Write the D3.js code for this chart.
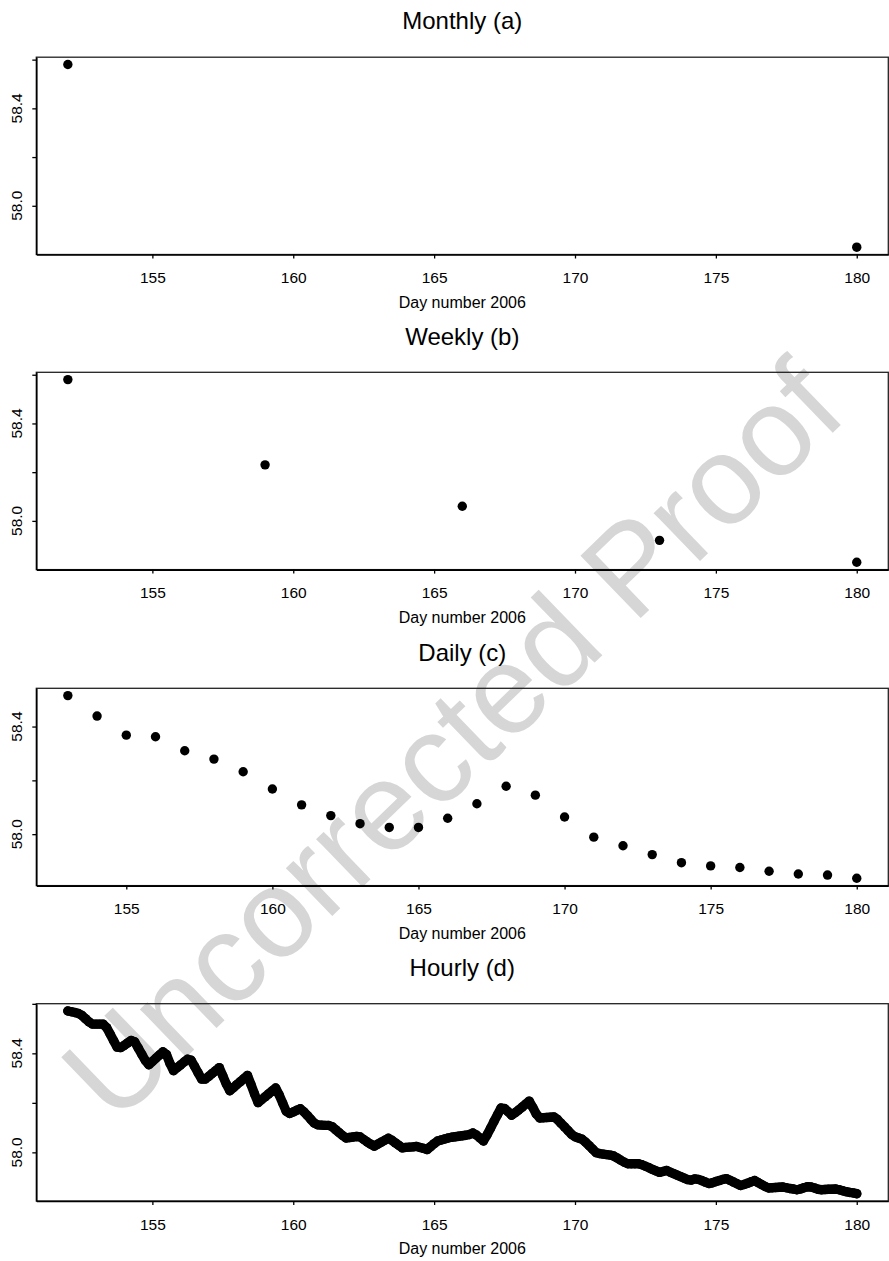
<!DOCTYPE html>
<html><head><meta charset="utf-8">
<script src="https://cdn.jsdelivr.net/npm/d3@7"></script>
<style>
html,body{margin:0;padding:0;background:#fff;}
svg{display:block;}
text{font-family:"Liberation Sans",Arial,Helvetica,sans-serif;}
</style>
</head><body>
<svg id="chart" width="889" height="1261"></svg>
<script>
// ---------- data ----------
const panelTitles = ["Monthly (a)", "Weekly (b)", "Daily (c)", "Hourly (d)"];
const xAxisTitle = "Day number 2006";
const watermarkText = "Uncorrected Proof";

const monthlyDays = [152, 180];
const monthlyValues = [58.58, 57.83];

const weeklyDays = [152, 159, 166, 173, 180];
const weeklyValues = [58.58, 58.23, 58.06, 57.92, 57.83];

const dailyDays = [153,154,155,156,157,158,159,160,161,162,163,164,165,166,167,168,169,170,171,172,173,174,175,176,177,178,179,180];
const dailyValues = [58.515,58.439,58.368,58.362,58.310,58.279,58.232,58.168,58.109,58.069,58.039,58.025,58.025,58.059,
                     58.113,58.178,58.145,58.064,57.989,57.957,57.924,57.894,57.882,57.876,57.862,57.852,57.848,57.836];

// hourly series read every 3 hours (0.125 day) from day 152.0 to 180.0
const hourlyStartDay = 152;
const hourlyStepDay = 0.125;
const hourlyValues = [
58.571,58.568,58.565,58.561,58.553,58.540,58.527,58.518,
58.518,58.518,58.518,58.504,58.478,58.451,58.425,58.423,
58.432,58.442,58.452,58.446,58.421,58.396,58.371,58.354,
58.367,58.380,58.393,58.406,58.395,58.359,58.330,58.342,
58.353,58.365,58.376,58.372,58.347,58.321,58.296,58.296,
58.307,58.319,58.330,58.342,58.309,58.276,58.249,58.261,
58.274,58.286,58.298,58.311,58.274,58.236,58.201,58.213,
58.224,58.236,58.248,58.260,58.232,58.199,58.166,58.157,
58.163,58.170,58.176,58.164,58.149,58.133,58.118,58.111,
58.110,58.109,58.109,58.104,58.092,58.080,58.068,58.058,
58.060,58.062,58.064,58.062,58.052,58.042,58.033,58.025,
58.033,58.041,58.049,58.057,58.049,58.038,58.028,58.018,
58.020,58.021,58.022,58.024,58.020,58.016,58.011,58.023,
58.035,58.046,58.050,58.054,58.058,58.061,58.063,58.065,
58.067,58.069,58.072,58.078,58.070,58.058,58.046,58.070,
58.097,58.125,58.152,58.179,58.177,58.164,58.150,58.160,
58.171,58.183,58.195,58.207,58.182,58.155,58.139,58.140,
58.141,58.142,58.143,58.133,58.118,58.103,58.088,58.073,
58.063,58.058,58.053,58.041,58.027,58.013,57.999,57.995,
57.993,57.991,57.989,57.985,57.977,57.968,57.960,57.954,
57.954,57.954,57.954,57.950,57.944,57.938,57.931,57.925,
57.919,57.923,57.927,57.920,57.914,57.908,57.902,57.896,
57.890,57.888,57.893,57.891,57.886,57.880,57.874,57.877,
57.882,57.886,57.891,57.894,57.887,57.880,57.873,57.866,
57.870,57.875,57.881,57.886,57.878,57.870,57.862,57.856,
57.857,57.858,57.859,57.860,57.857,57.854,57.852,57.849,
57.852,57.857,57.861,57.860,57.856,57.851,57.849,57.850,
57.851,57.851,57.852,57.849,57.845,57.841,57.838,57.836,
57.833];
const hourlyDays = hourlyValues.map((v, i) => hourlyStartDay + i * hourlyStepDay);

const xTickValues = [155, 160, 165, 170, 175, 180];
const yTickValues = [57.8, 58.0, 58.2, 58.4, 58.6];
const yTickLabels = ["58.0", "58.4"];

// ---------- layout ----------
const W = 889, Hpx = 1261;
const left = 36.3, right = 888.3;
const panelTops = [57.2, 372.3, 688.3, 1003.7];
const panelH = 197.3;
const dotR = 4.7;

const svg = d3.select("#chart");
svg.append("rect").attr("width", W).attr("height", Hpx).attr("fill", "#fff");

// watermark (behind the chart)
svg.append("text")
  .attr("transform", "translate(452,740) rotate(-44)")
  .attr("text-anchor", "middle")
  .attr("dominant-baseline", "central")
  .attr("font-size", 126)
  .attr("fill", "#d6d6d6")
  .text(watermarkText);

function ext(arr) {
  const mn = d3.min(arr), mx = d3.max(arr), s = mx - mn;
  return [mn - 0.04 * s, mx + 0.04 * s];
}

const panels = [
  {days: monthlyDays, values: monthlyValues, line: false},
  {days: weeklyDays, values: weeklyValues, line: false},
  {days: dailyDays, values: dailyValues, line: false},
  {days: hourlyDays, values: hourlyValues, line: true}
];

panels.forEach((p, i) => {
  const top = panelTops[i], bottom = top + panelH;
  const x = d3.scaleLinear().domain(ext(p.days)).range([left, right]);
  const yd = ext(p.values);
  const y = d3.scaleLinear().domain(yd).range([bottom, top]);
  const g = svg.append("g");

  // title
  g.append("text")
    .attr("x", (left + right) / 2).attr("y", top - 27.8)
    .attr("text-anchor", "middle").attr("font-size", 24).attr("fill", "#000")
    .text(panelTitles[i]);

  // frame
  g.append("rect")
    .attr("x", left).attr("y", top).attr("width", right - left).attr("height", panelH)
    .attr("fill", "none").attr("stroke", "#222").attr("stroke-width", 1.3);

  // x axis
  const xa = g.append("g").attr("transform", `translate(0,${bottom})`)
    .call(d3.axisBottom(x).tickValues(xTickValues).tickSize(4).tickSizeOuter(0).tickPadding(13.7).tickFormat(d3.format("d")));
  xa.select(".domain").attr("stroke", "#000").attr("stroke-width", 1.6);
  xa.selectAll(".tick line").attr("stroke", "#000").attr("stroke-width", 1.3);
  xa.selectAll(".tick text").attr("font-size", 15.5).attr("fill", "#000")
    .attr("font-family", '"Liberation Sans",Arial,Helvetica,sans-serif');

  // y axis
  const yt = yTickValues.filter(v => v > yd[0] + 0.005 && v <= yd[1] + 0.001);
  const ya = g.append("g").attr("transform", `translate(${left},0)`)
    .call(d3.axisLeft(y).tickValues(yt).tickSize(4).tickSizeOuter(0).tickFormat(""));
  ya.select(".domain").attr("stroke", "#000").attr("stroke-width", 1.6);
  ya.selectAll(".tick line").attr("stroke", "#000").attr("stroke-width", 1.3);
  yt.filter(v => yTickLabels.includes(v.toFixed(1))).forEach(v => {
    g.append("text")
      .attr("transform", `translate(${left - 14.6},${y(v)}) rotate(-90)`)
      .attr("text-anchor", "middle").attr("font-size", 15.5).attr("fill", "#000")
      .text(v.toFixed(1));
  });

  // x axis title
  g.append("text")
    .attr("x", (left + right) / 2).attr("y", bottom + 53)
    .attr("text-anchor", "middle").attr("font-size", 16).attr("fill", "#000")
    .text(xAxisTitle);

  const pts = p.days.map((d, k) => [d, p.values[k]]);
  if (p.line) {
    g.append("path")
      .attr("d", d3.line().x(d => x(d[0])).y(d => y(d[1]))(pts))
      .attr("fill", "none").attr("stroke", "#000").attr("stroke-width", dotR * 2)
      .attr("stroke-linejoin", "round").attr("stroke-linecap", "round");
  }
  g.selectAll("circle.pt").data(pts).enter().append("circle")
    .attr("class", "pt")
    .attr("cx", d => x(d[0])).attr("cy", d => y(d[1])).attr("r", dotR)
    .attr("fill", "#000");
});
</script>
</body></html>
